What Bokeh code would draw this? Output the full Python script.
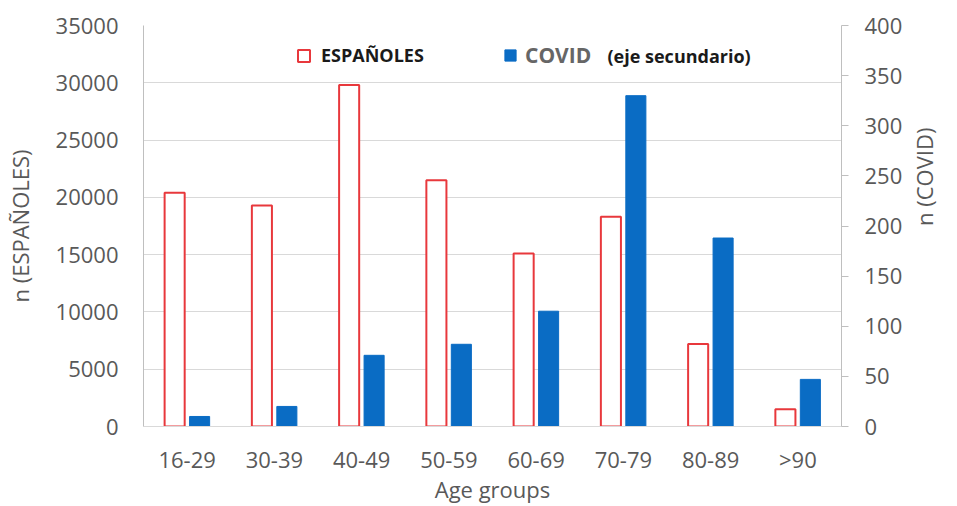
import math
from bokeh.plotting import figure
from bokeh.models import (Range1d, LinearAxis, FactorRange, Legend, LegendItem,
                          Label, FixedTicker)
from bokeh.transform import dodge
from bokeh.embed import file_html
from bokeh.resources import INLINE

# ---- data ----
age_groups = ["16-29", "30-39", "40-49", "50-59", "60-69", "70-79", "80-89", ">90"]
espanoles = [20400, 19300, 29800, 21500, 15100, 18300, 7200, 1500]
covid = [10, 20, 71, 82, 115, 330, 188, 47]
left_ticks = [0, 5000, 10000, 15000, 20000, 25000, 30000, 35000]
right_ticks = [0, 50, 100, 150, 200, 250, 300, 350, 400]

FONT = "Open Sans"
GRAY = "#595959"
RED = "#e8383c"
BLUE = "#0a6cc4"
TICK_SIZE = "22px"

p = figure(x_range=FactorRange(factors=age_groups), y_range=Range1d(0, 35000),
           width=957, height=506,
           min_border_left=143, min_border_right=113, min_border_top=25,
           min_border_bottom=80, output_backend="svg", toolbar_location=None,
           background_fill_color="white", border_fill_color="white")
p.outline_line_color = None
p.extra_y_ranges = {"covid": Range1d(0, 400)}

data = dict(age=age_groups, esp=espanoles, cov=covid)
r_esp = p.vbar(x=dodge("age", -0.143, range=p.x_range), top="esp", width=0.23,
               source=data, fill_color="white", line_color=RED, line_width=2)
r_cov = p.vbar(x=dodge("age", 0.143, range=p.x_range), top="cov", width=0.23,
               source=data, fill_color=BLUE, line_color=BLUE, line_width=1,
               y_range_name="covid")

# grid
p.xgrid.grid_line_color = None
p.ygrid.grid_line_color = "#d9d9d9"
p.ygrid.grid_line_width = 1

# left axis
ya = p.yaxis[0]
ya.ticker = FixedTicker(ticks=left_ticks)
ya.axis_line_color = "#bfbfbf"
ya.major_tick_line_color = None
ya.minor_tick_line_color = None
ya.major_tick_out = 0
ya.major_tick_in = 0
ya.major_label_standoff = 25
ya.major_label_text_font = FONT
ya.major_label_text_font_size = TICK_SIZE
ya.major_label_text_color = GRAY
ya.axis_label = "n (ESPAÑOLES)"
ya.axis_label_standoff = 18
ya.axis_label_text_font = FONT
ya.axis_label_text_font_size = "22px"
ya.axis_label_text_font_style = "normal"
ya.axis_label_text_color = GRAY

# right axis
ra = LinearAxis(y_range_name="covid", ticker=FixedTicker(ticks=right_ticks))
ra.axis_line_color = "#bfbfbf"
ra.major_tick_line_color = "#bfbfbf"
ra.major_tick_in = 0
ra.major_tick_out = 7
ra.minor_tick_line_color = None
ra.major_label_standoff = 16
ra.major_label_text_font = FONT
ra.major_label_text_font_size = TICK_SIZE
ra.major_label_text_color = GRAY
ra.axis_label = "n (COVID)"
ra.axis_label_standoff = 19
ra.axis_label_orientation = math.pi / 2
ra.axis_label_text_font = FONT
ra.axis_label_text_font_size = "22px"
ra.axis_label_text_font_style = "normal"
ra.axis_label_text_color = GRAY
p.add_layout(ra, "right")

# x axis
xa = p.xaxis[0]
xa.axis_line_color = "#d9d9d9"
xa.major_tick_line_color = None
xa.minor_tick_line_color = None
xa.major_tick_out = 0
xa.major_tick_in = 0
xa.major_label_standoff = 17
xa.major_label_text_font = FONT
xa.major_label_text_font_size = TICK_SIZE
xa.major_label_text_color = GRAY
xa.axis_label = "Age groups"
xa.axis_label_standoff = -3
xa.axis_label_text_font = FONT
xa.axis_label_text_font_size = "22px"
xa.axis_label_text_font_style = "normal"
xa.axis_label_text_color = GRAY

# legends
leg1 = Legend(items=[LegendItem(label="ESPAÑOLES", renderers=[r_esp])],
              location=(153, 359), orientation="horizontal",
              glyph_width=15, glyph_height=15, label_standoff=10,
              padding=0, margin=0, border_line_color=None,
              background_fill_alpha=0, label_text_font=FONT,
              label_text_font_size="18px", label_text_font_style="bold",
              label_text_color="#1a1a1a")
leg2 = Legend(items=[LegendItem(label="COVID", renderers=[r_cov])],
              location=(360, 357), orientation="horizontal",
              glyph_width=14, glyph_height=14, label_standoff=8,
              padding=0, margin=0, border_line_color=None,
              background_fill_alpha=0, label_text_font=FONT,
              label_text_font_size="21px", label_text_font_style="bold",
              label_text_color="#666666")
p.add_layout(leg1, "center")
p.add_layout(leg2, "center")

note = Label(x=464, y=371, x_units="screen", y_units="screen",
             text="(eje secundario)", text_font=FONT, text_font_size="18px",
             text_font_style="bold", text_color="#1a1a1a", text_baseline="middle")
p.add_layout(note)

open("out.html", "w").write(file_html(p, INLINE))
